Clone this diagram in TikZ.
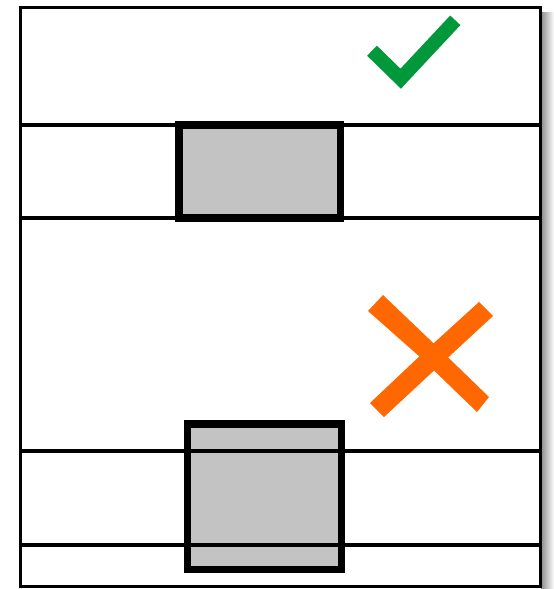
\documentclass[tikz,border=0pt]{standalone}
\begin{document}
\begin{tikzpicture}[x=1pt,y=-1pt,
  frame/.style={draw=black,line width=3pt},
  rail/.style={draw=black,line width=4pt},
  blockbox/.style={draw=black,fill=boxgray,line width=7.5pt,line join=miter},
  ]
\definecolor{boxgray}{RGB}{195,195,195}
\definecolor{okgreen}{RGB}{0,152,58}
\definecolor{badorange}{RGB}{255,104,0}
\useasboundingbox (0,0) rectangle (554,589);
% shadow
\shade[left color=black!45,right color=white] (541,12) rectangle (554,589);
% outer frame
\filldraw[frame,fill=white] (20.5,7.5) rectangle (540.5,586.5);
% top section
\draw[rail] (20.5,124.5) -- (540.5,124.5);
\draw[rail] (20.5,218) -- (540.5,218);
\filldraw[blockbox] (179,125) rectangle (340.5,218);
% bottom section
\fill[boxgray] (187.3,424) rectangle (341.7,569.5);
\draw[rail] (20.5,451) -- (540.5,451);
\draw[rail] (20.5,545) -- (540.5,545);
\draw[blockbox,fill=none] (187.3,424) rectangle (341.7,569.5);
% check mark
\draw[okgreen,line width=14pt,line join=miter,line cap=butt]
  (372,50.7) -- (400.7,78.7) -- (455.3,20.3);
% cross
\fill[badorange] (368,311) -- (383,295) -- (428,338) -- (489,397) -- (477,412) -- (420,357) -- cycle;
\fill[badorange] (479,302) -- (493,316) -- (440,365) -- (384,417) -- (370,403) -- (424,352) -- cycle;
\end{tikzpicture}
\end{document}
